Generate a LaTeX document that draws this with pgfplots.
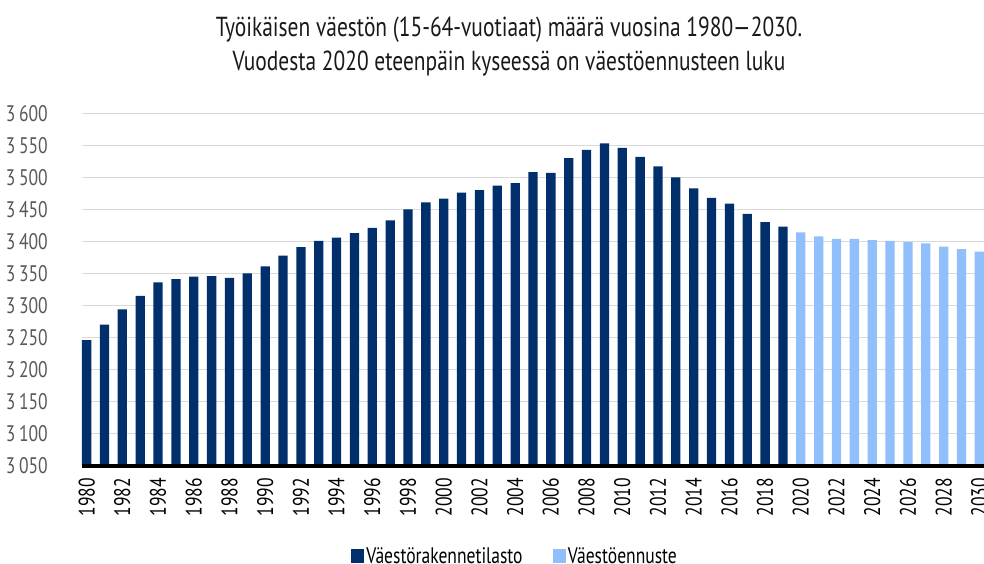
\documentclass[border=0pt]{standalone}
\usepackage{fontspec}
\setmainfont{PT Sans}[FakeStretch=0.78]
\usepackage{pgfplots}
\pgfplotsset{compat=1.18}
\definecolor{navy}{HTML}{002F6C}
\definecolor{lightb}{HTML}{91BFFB}
\definecolor{gridc}{HTML}{D9D9D9}
\definecolor{labc}{HTML}{595959}
\begin{document}
\begin{tikzpicture}[x=1pt,y=1pt]
\useasboundingbox (-82,-98.3) rectangle (902,465.7);
\begin{axis}[
  at={(0,0)}, anchor=south west,
  width=902pt, height=352.4pt, scale only axis,
  xmin=1979.74, xmax=2030.26,
  ymin=3050, ymax=3600,
  ytick={3050,3100,...,3600},
  xtick={1980,1982,...,2030},
  bar width=0.52,
  ybar, bar shift=0pt,
  axis x line*=bottom,
  axis y line*=left,
  y axis line style={draw=none},
  x axis line style={draw=none},
  ymajorgrids, grid style={gridc, line width=1.4pt},
  major tick length=0pt,
  /pgf/number format/assume math mode=true,
  /pgf/number format/1000 sep={\,},
  yticklabel style={font=\fontsize{22.5}{22.5}\selectfont, text=labc, inner sep=0pt, anchor=east},
  yticklabel shift=34pt,
  xticklabel style={font=\fontsize{22.5}{22.5}\selectfont, text=black, inner sep=0pt, rotate=90, anchor=east, /pgf/number format/1000 sep={}},
  xticklabel shift=12pt,
  legend style={at={(0.48,-0.256)}, anchor=center, draw=none, fill=none,
    legend columns=2, font=\fontsize{22.5}{22.5}\selectfont,
    /tikz/every even column/.append style={column sep=28pt}},
  legend image code/.code={\fill[#1,draw=none] (-2pt,-6.6pt) rectangle (11.3pt,6.6pt);},
  clip=false,
]
\addplot[fill=navy, draw=none] coordinates {
(1980,3246) (1981,3270) (1982,3294) (1983,3315) (1984,3336) (1985,3341)
(1986,3345) (1987,3346) (1988,3343) (1989,3350) (1990,3361) (1991,3378)
(1992,3391) (1993,3401) (1994,3406) (1995,3413) (1996,3421) (1997,3433)
(1998,3450) (1999,3461) (2000,3467) (2001,3476) (2002,3480) (2003,3487)
(2004,3491) (2005,3508) (2006,3507) (2007,3530) (2008,3543) (2009,3553)
(2010,3546) (2011,3532) (2012,3517) (2013,3500) (2014,3483) (2015,3468)
(2016,3459) (2017,3443) (2018,3430) (2019,3423)
};
\addlegendentry{Väestörakennetilasto}
\addplot[fill=lightb, draw=none] coordinates {
(2020,3414) (2021,3408) (2022,3404) (2023,3404) (2024,3402) (2025,3401)
(2026,3399) (2027,3397) (2028,3392) (2029,3388) (2030,3384)
};
\addlegendentry{Väestöennuste}
\draw[black, line width=4pt] (rel axis cs:0,0) -- (rel axis cs:1,0);
\end{axis}
\node[align=center, font=\fontsize{27.5}{34}\selectfont, text=black!90] at (427,419)
  {Työikäisen väestön (15-64-vuotiaat) määrä vuosina 1980—2030.\\Vuodesta 2020 eteenpäin kyseessä on väestöennusteen luku};
\end{tikzpicture}
\end{document}
